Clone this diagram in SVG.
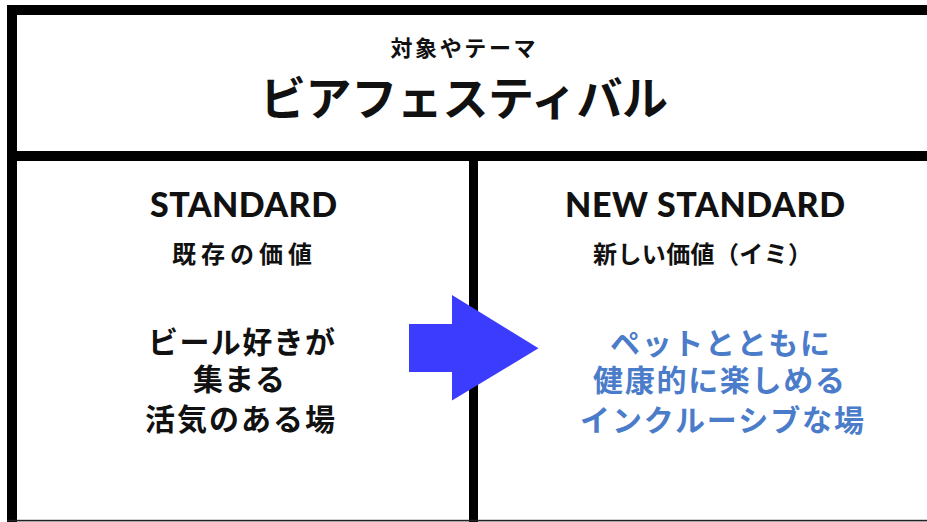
<svg xmlns="http://www.w3.org/2000/svg" width="927" height="522" viewBox="0 0 927 522">
<style>
.jp{font-family:"Noto Sans CJK JP","Noto Sans CJK SC",sans-serif;font-weight:700;text-anchor:middle;fill:#111}
.en{font-family:"Lato","Noto Sans",sans-serif;font-weight:900;text-anchor:middle;fill:#111}
.blue{fill:#4b7cca}
.frame{fill:#000}
</style>
<rect width="927" height="522" fill="#fff"/>
<g id="frame">
<rect class="frame" x="7" y="5" width="920" height="10"/>
<rect class="frame" x="7" y="5" width="10" height="517"/>
<rect class="frame" x="7" y="151" width="920" height="10"/>
<rect class="frame" x="469" y="151" width="9" height="371"/>
<rect x="7" y="519.8" width="920" height="1.6" fill="#222"/>
</g>
<g id="theme">
<text class="jp" x="463" y="56" font-size="22" textLength="145" lengthAdjust="spacing">対象やテーマ</text>
<text class="jp" x="464" y="115" font-size="46" textLength="408" lengthAdjust="spacing">ビアフェスティバル</text>
</g>
<g id="standard">
<text class="en" x="243.5" y="217" font-size="34" textLength="187" lengthAdjust="spacing">STANDARD</text>
<text class="jp" x="242" y="263" font-size="24" textLength="140" lengthAdjust="spacing">既存の価値</text>
<text class="jp" x="241.5" y="353" font-size="30" textLength="187" lengthAdjust="spacing">ビール好きが</text>
<text class="jp" x="239" y="390" font-size="30" textLength="92" lengthAdjust="spacing">集まる</text>
<text class="jp" x="240" y="430" font-size="30" textLength="190" lengthAdjust="spacing">活気のある場</text>
</g>
<g id="new-standard">
<text class="en" x="705" y="217" font-size="34" textLength="280" lengthAdjust="spacing">NEW STANDARD</text>
<text class="jp" x="702.5" y="263" font-size="24" textLength="219" lengthAdjust="spacing">新しい価値（イミ）</text>
<text class="jp blue" x="720" y="354" font-size="30" textLength="220" lengthAdjust="spacing">ペットとともに</text>
<text class="jp blue" x="719" y="391" font-size="30" textLength="252" lengthAdjust="spacing">健康的に楽しめる</text>
<text class="jp blue" x="722" y="431" font-size="30" textLength="284" lengthAdjust="spacing">インクルーシブな場</text>
</g>
<g id="connectors">
<polygon points="409,324 452,324 452,295 538.5,348.3 452,400.5 452,372 409,372" fill="#3c3cff"/>
</g>
</svg>
